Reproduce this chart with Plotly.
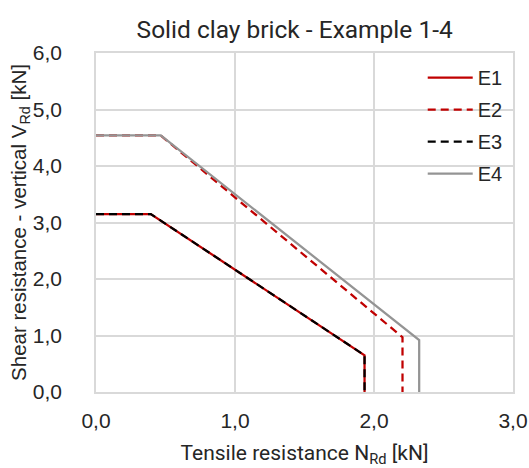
import plotly.graph_objects as go

# Interaction curves: tensile resistance N_Rd [kN] vs shear resistance V_Rd [kN]
series_names = ["E1", "E2", "E3", "E4"]
n_e1 = [0.0, 0.394, 1.932, 1.932]
v_e1 = [3.15, 3.15, 0.65, 0.0]
n_e2 = [0.0, 0.466, 2.205, 2.205]
v_e2 = [4.54, 4.54, 0.97, 0.0]
n_e3 = [0.0, 0.394, 1.932, 1.932]
v_e3 = [3.15, 3.15, 0.65, 0.0]
n_e4 = [0.0, 0.466, 2.325, 2.325]
v_e4 = [4.54, 4.54, 0.92, 0.0]

x_ticks = [0, 1, 2, 3]
y_ticks = [0, 1, 2, 3, 4, 5, 6]

styles = [
    dict(color="#C00000", dash="solid"),
    dict(color="#C00000", dash="8px,5px"),
    dict(color="#000000", dash="8px,5px"),
    dict(color="#949494", dash="solid"),
]
data_x = [n_e1, n_e2, n_e3, n_e4]
data_y = [v_e1, v_e2, v_e3, v_e4]

fig = go.Figure()
for name, xs, ys, st in zip(series_names, data_x, data_y, styles):
    fig.add_trace(go.Scatter(
        x=xs, y=ys, name=name, mode="lines", legendgroup=name,
        line=dict(color=st["color"], dash=st["dash"], width=2.25),
    ))

grid = "#d9d9d9"
txt = "#262626"
sans = "'Liberation Sans', Arial, sans-serif"
head = "Roboto, 'Liberation Sans', sans-serif"
fig.update_layout(
    width=529, height=468,
    margin=dict(l=96, r=16, t=53, b=76),
    paper_bgcolor="white", plot_bgcolor="white",
    separators=", ",
    font=dict(family=sans, color=txt, size=20),
    title=dict(text="Solid clay brick - Example 1-4", x=0.557, xanchor="center",
               y=0.937, yanchor="middle",
               font=dict(family=head, size=24.5, color=txt)),
    showlegend=True,
    legend=dict(x=0.7835, y=0.985, xanchor="left", yanchor="top",
                bgcolor="rgba(0,0,0,0)", font=dict(size=20, color=txt),
                tracegroupgap=3, itemwidth=45),
)
fig.update_xaxes(
    range=[0, 3], tickvals=x_ticks, tickformat=".1f",
    showgrid=True, gridcolor=grid, gridwidth=1.5,
    showline=True, linecolor=grid, linewidth=1.5, mirror=True,
    zeroline=False, ticks="", ticklabelstandoff=9, automargin=False,
    tickfont=dict(size=21, color=txt),
    title=dict(text="Tensile resistance N<sub>Rd</sub> [kN]", standoff=31,
               font=dict(family=head, size=21, color=txt)),
)
fig.update_yaxes(
    range=[0, 6], tickvals=y_ticks, tickformat=".1f",
    showgrid=True, gridcolor=grid, gridwidth=1.5,
    showline=True, linecolor=grid, linewidth=1.5, mirror=True,
    zeroline=False, ticks="", ticklabelstandoff=28, automargin=False,
    tickfont=dict(size=21, color=txt),
    title=dict(text="Shear resistance - vertical V<sub>Rd</sub> [kN]", standoff=0,
               font=dict(size=20.5, color=txt)),
)

fig.write_html("out.html")
